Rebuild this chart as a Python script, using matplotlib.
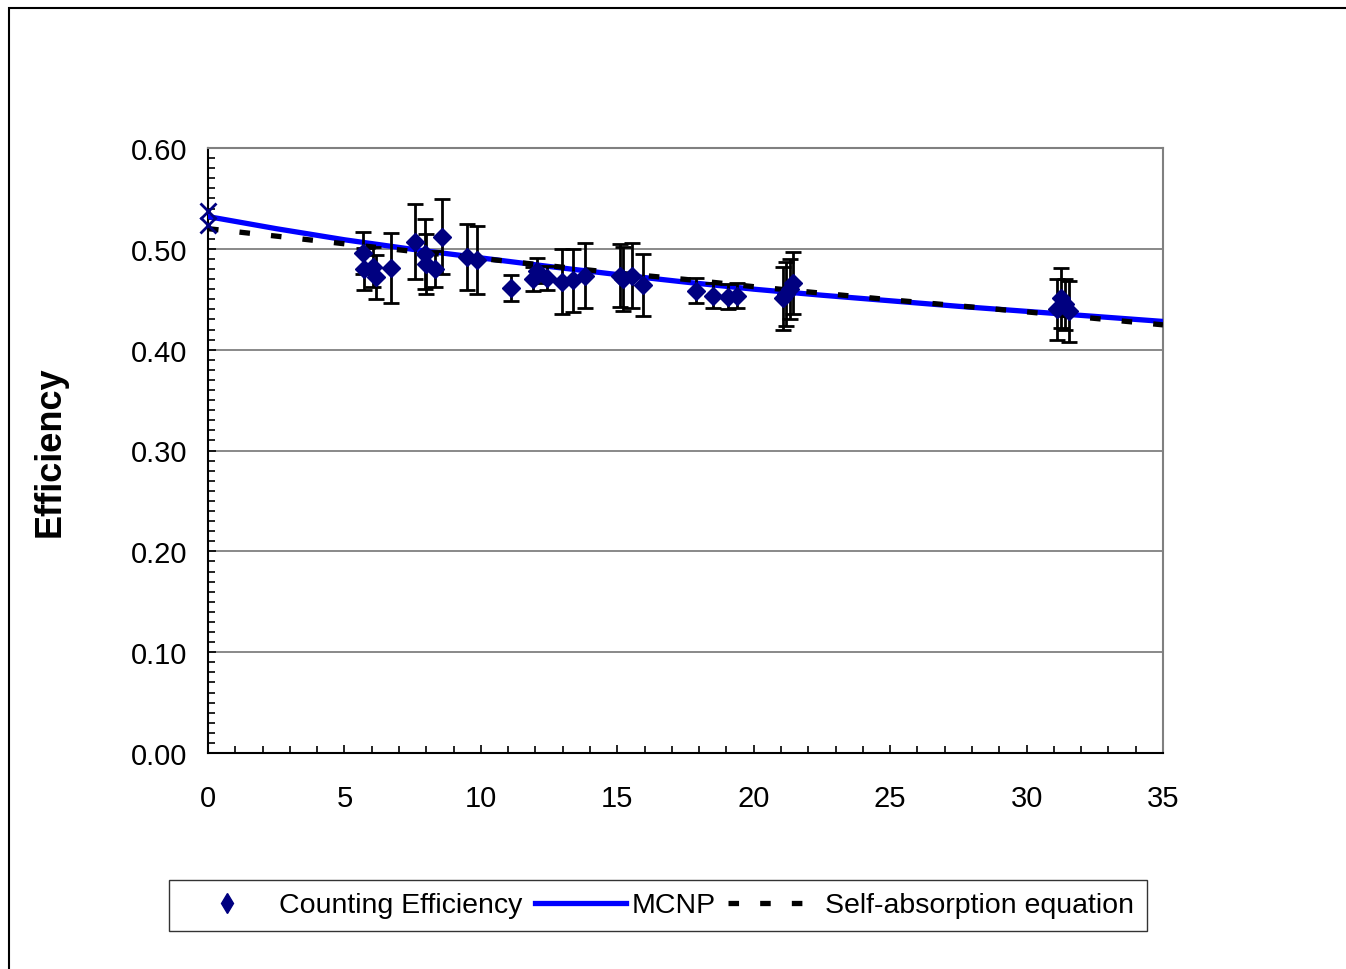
import numpy as np
import matplotlib.pyplot as plt
from matplotlib.lines import Line2D
from matplotlib.patches import Rectangle
from matplotlib.ticker import MultipleLocator, FormatStrFormatter

plt.rcParams['font.family'] = ['Liberation Sans', 'DejaVu Sans']

# measured counting efficiency (x, efficiency, error)
x_meas = [5.69, 5.72, 6.06, 6.14, 6.71, 7.60, 7.95, 7.98, 8.32, 8.59, 9.48, 9.85,
          11.09, 11.90, 12.07, 12.41, 12.96, 13.39, 13.81, 15.10, 15.22, 15.53, 15.93,
          17.87, 18.49, 19.07, 19.40,
          21.08, 21.20, 21.33, 21.45,
          31.10, 31.25, 31.40, 31.55]
y_meas = [0.496, 0.480, 0.482, 0.472, 0.481, 0.507, 0.495, 0.485, 0.480, 0.512, 0.492, 0.489,
          0.461, 0.470, 0.4785, 0.471, 0.4676, 0.4686, 0.4735, 0.4735, 0.470, 0.4735, 0.4643,
          0.4583, 0.4537, 0.4527, 0.4537,
          0.451, 0.455, 0.460, 0.466,
          0.440, 0.451, 0.445, 0.438]
err_meas = [0.021, 0.021, 0.020, 0.0215, 0.035, 0.037, 0.035, 0.030, 0.018, 0.037, 0.033, 0.0335,
            0.0128, 0.012, 0.0125, 0.012, 0.032, 0.0315, 0.032, 0.0314, 0.0315, 0.032, 0.031,
            0.0125, 0.0127, 0.0127, 0.012,
            0.031, 0.032, 0.030, 0.031,
            0.030, 0.030, 0.025, 0.030]

# points at zero thickness
x_zero = [0, 0]
y_zero = [0.538, 0.5235]

# MCNP curve
x_curve = [0, 2.5, 5, 7.5, 10, 12.5, 15, 17.5, 20, 22.5, 25, 27.5, 30, 32.5, 35]
y_mcnp = [0.532, 0.520, 0.509, 0.4995, 0.491, 0.4825, 0.4745, 0.467, 0.460, 0.454,
          0.4485, 0.443, 0.438, 0.433, 0.428]
# self-absorption equation
y_self = [0.520, 0.5126, 0.505, 0.4975, 0.4905, 0.4832, 0.476, 0.4697, 0.4625, 0.456,
          0.4495, 0.4435, 0.4375, 0.431, 0.4246]

navy = '#000080'

fig = plt.figure(figsize=(13.46, 9.7), dpi=100)
ax = fig.add_axes([208/1346, 1-754/970, (1163-208)/1346, (754-149)/970])

ax.plot(x_curve, y_mcnp, color='#0000FF', lw=3.8, zorder=3)
ax.plot(x_curve, y_self, color='black', lw=3.8, linestyle=(0, (2.0, 4.0)), zorder=4)
ax.errorbar(x_meas, y_meas, yerr=err_meas, fmt='none', ecolor='black', elinewidth=2,
            capsize=6, capthick=2, zorder=5)
ax.plot(x_meas, y_meas, 'D', color=navy, markersize=9, zorder=6, clip_on=False)
ax.plot(x_zero, y_zero, 'x', color=navy, markersize=11, mew=2, zorder=6, clip_on=False)

ax.set_xlim(0, 35)
ax.set_ylim(0, 0.6)
ax.xaxis.set_major_locator(MultipleLocator(5))
ax.xaxis.set_minor_locator(MultipleLocator(1))
ax.yaxis.set_major_locator(MultipleLocator(0.1))
ax.yaxis.set_minor_locator(MultipleLocator(0.01))
ax.yaxis.set_major_formatter(FormatStrFormatter('%.2f'))
ax.tick_params(which='both', direction='in', labelsize=21, color='black', width=1.2)
ax.tick_params(which='major', length=6)
ax.tick_params(which='minor', length=5)
ax.tick_params(axis='x', pad=22)
ax.tick_params(axis='y', pad=15)
ax.grid(axis='y', which='major', color='#808080', lw=1.3)
ax.set_axisbelow(True)
for s in ['top', 'right']:
    ax.spines[s].set_color('#808080')
    ax.spines[s].set_linewidth(1.5)
for s in ['left', 'bottom']:
    ax.spines[s].set_color('black')
    ax.spines[s].set_linewidth(1.5)

fig.text(50/1346, 1-452/970, 'Efficiency', rotation=90, fontsize=26, fontweight='bold',
         ha='center', va='center')

handles = [Line2D([], [], marker='d', color=navy, linestyle='none', markersize=10),
           Line2D([], [], color='#0000FF', lw=3.8),
           Line2D([], [], color='black', lw=3.8, linestyle=(0, (2.0, 4.0)))]
labels = ['Counting Efficiency', 'MCNP', 'Self-absorption equation']
leg = fig.legend(handles, labels, loc='center', bbox_to_anchor=(658/1346, 1-906.5/970),
                 ncol=3, fontsize=20.5, frameon=True, fancybox=False, shadow=False,
                 handlelength=3.2, handletextpad=0.2, columnspacing=0.45,
                 borderpad=0.45, borderaxespad=0)
leg.get_frame().set_edgecolor('black')
leg.get_frame().set_linewidth(1.0)

# outer chart border
fig.patches.append(Rectangle((9/1346, -0.1), 1.2, 1-9/970+0.1, transform=fig.transFigure,
                             fill=False, edgecolor='black', lw=1.5))

fig.savefig('out.png', dpi=100)
